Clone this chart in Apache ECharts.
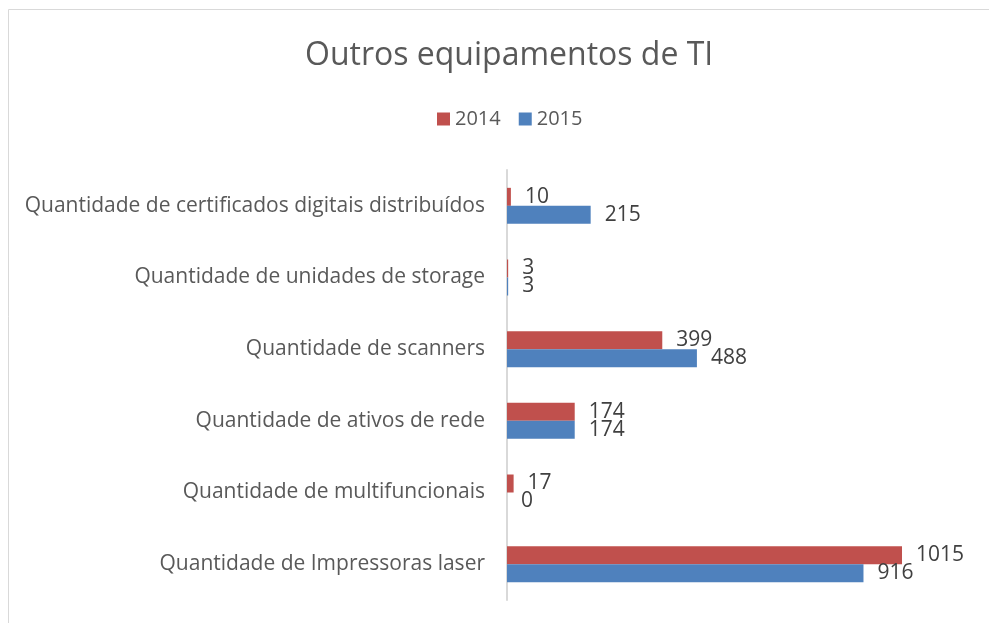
<!DOCTYPE html>
<html>
<head>
<meta charset="utf-8">
<script src="https://cdn.jsdelivr.net/npm/echarts@6/dist/echarts.min.js"></script>
<style>
  html, body { margin: 0; padding: 0; background: #ffffff; }
  #main { width: 989px; height: 623px; }
</style>
</head>
<body>
<div id="main"></div>
<script>
// categorias, de baixo para cima (como no Excel)
var categorias = [
    'Quantidade de Impressoras laser',
    'Quantidade de multifuncionais',
    'Quantidade de ativos de rede',
    'Quantidade de scanners',
    'Quantidade de unidades de storage',
    'Quantidade de certificados digitais distribuídos'
];
var valores2014 = [1015, 17, 174, 399, 3, 10];
var valores2015 = [916, 0, 174, 488, 3, 215];

var fonte = '"Open Sans", "Noto Sans", sans-serif';

var myChart = echarts.init(document.getElementById('main'));

function serie(nome, cor, dados) {
    return {
        name: nome,
        type: 'bar',
        barWidth: 18,
        barGap: '0%',
        itemStyle: { color: cor },
        label: {
            show: true,
            position: 'right',
            distance: 14,
            color: '#404040',
            fontFamily: fonte,
            fontSize: 21
        },
        data: dados
    };
}

myChart.setOption({
    animation: false,
    title: {
        text: 'Outros equipamentos de TI',
        left: 300,
        top: 35,
        textStyle: { color: '#595959', fontFamily: fonte, fontSize: 32, fontWeight: 'normal' }
    },
    legend: {
        data: ['2014', '2015'],
        top: 104,
        left: 432,
        icon: 'rect',
        itemWidth: 13,
        itemHeight: 13,
        itemGap: 18,
        textStyle: { color: '#595959', fontFamily: fonte, fontSize: 20 }
    },
    grid: {
        left: 507,
        right: 15,
        top: 170,
        bottom: 23
    },
    xAxis: {
        type: 'value',
        min: 0,
        max: 1200,
        axisLabel: { show: false },
        axisLine: { show: false },
        axisTick: { show: false },
        splitLine: { show: false }
    },
    yAxis: {
        type: 'category',
        data: categorias,
        axisLine: { lineStyle: { color: '#d9d9d9', width: 2 } },
        axisTick: { show: false },
        axisLabel: {
            color: '#595959',
            fontFamily: fonte,
            fontSize: 21,
            margin: 22
        }
    },
    series: [
        serie('2014', '#c0504d', valores2014),
        serie('2015', '#4f81bd', valores2015)
    ],
    graphic: [{
        type: 'rect',
        shape: { x: 8.5, y: 9.5, width: 1200, height: 1000 },
        style: { fill: 'none', stroke: '#d9d9d9', lineWidth: 1 },
        silent: true
    }]
});
</script>
</body>
</html>
